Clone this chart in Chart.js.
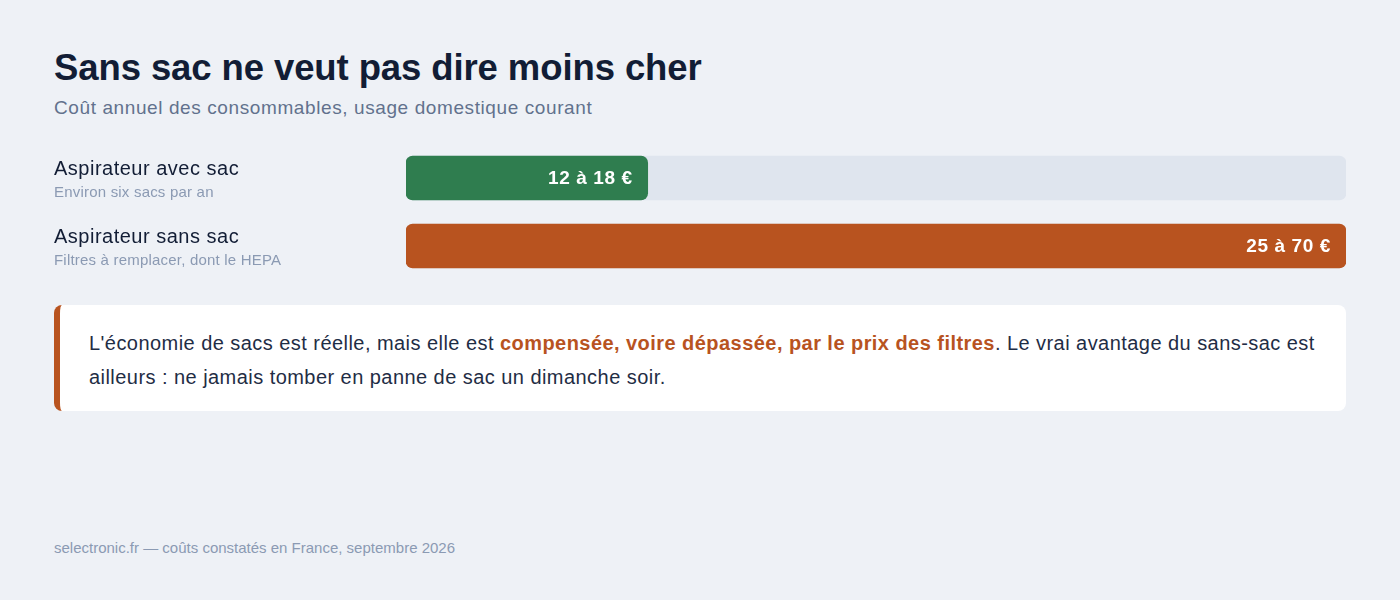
<!DOCTYPE html>
<html lang="fr">
<head>
<meta charset="utf-8">
<script src="https://cdn.jsdelivr.net/npm/chart.js@4.4.1/dist/chart.umd.min.js"></script>
<style>
  html, body { margin: 0; padding: 0; }
  body {
    width: 1400px; height: 600px; position: relative; overflow: hidden;
    background: #eef1f6; font-family: "Liberation Sans", Arial, Helvetica, sans-serif;
  }
  h1 {
    position: absolute; left: 54px; top: 48px; margin: 0;
    font-size: 36.5px; line-height: 40px; font-weight: 700; color: #121d35; letter-spacing: -0.1px;
  }
  .sous-titre {
    position: absolute; left: 54px; top: 97px; margin: 0;
    font-size: 19px; line-height: 22px; color: #62718d; letter-spacing: 0.6px;
  }
  #zoneBarres { position: absolute; left: 54px; top: 144px; }
  .encart {
    position: absolute; left: 54px; top: 305px; width: 1292px; height: 106px; box-sizing: border-box;
    background: #fff; border-left: 6px solid #b8531f; border-radius: 8px;
    padding: 21px 28px 0 29px; font-size: 20px; line-height: 34px; color: #1f2d45; letter-spacing: 0.45px;
  }
  .encart b { color: #b8531f; }
  .source {
    position: absolute; left: 54px; top: 539px; margin: 0;
    font-size: 15px; line-height: 18px; color: #8b9ab3;
  }
</style>
</head>
<body>
<h1>Sans sac ne veut pas dire moins cher</h1>
<p class="sous-titre">Coût annuel des consommables, usage domestique courant</p>
<canvas id="zoneBarres" width="1292" height="136"></canvas>
<div class="encart">L'économie de sacs est réelle, mais elle est <b>compensée, voire dépassée, par le prix des filtres</b>. Le vrai avantage du sans-sac est ailleurs : ne jamais tomber en panne de sac un dimanche soir.</div>
<p class="source">selectronic.fr — coûts constatés en France, septembre 2026</p>

<script>
// données
const categories = ["Aspirateur avec sac", "Aspirateur sans sac"];
const details = ["Environ six sacs par an", "Filtres à remplacer, dont le HEPA"];
const coutMin = [12, 25];
const coutMax = [18, 70];
const couleurs = ["#2f7d4f", "#b8531f"];
const echelleMax = 70;

// libellés à gauche + fourchette dans la barre
const etiquettes = {
  id: "etiquettes",
  afterDatasetsDraw(chart) {
    const ctx = chart.ctx;
    const y = chart.scales.y;
    const barres = chart.getDatasetMeta(0).data;
    ctx.save();
    categories.forEach(function (nom, i) {
      const yc = y.getPixelForValue(i);
      ctx.textBaseline = "middle";
      ctx.textAlign = "left";
      ctx.fillStyle = "#121d35";
      ctx.letterSpacing = "0.5px";
      ctx.font = "20px 'Liberation Sans', Arial, sans-serif";
      ctx.fillText(nom, 0, yc - 9);
      ctx.fillStyle = "#8b9ab3";
      ctx.letterSpacing = "0.2px";
      ctx.font = "15px 'Liberation Sans', Arial, sans-serif";
      ctx.fillText(details[i], 0, yc + 15);

      ctx.textAlign = "right";
      ctx.fillStyle = "#ffffff";
      ctx.letterSpacing = "0.6px";
      ctx.font = "bold 19px 'Liberation Sans', Arial, sans-serif";
      ctx.fillText(coutMin[i] + " à " + coutMax[i] + " €", barres[i].x - 15, yc + 1);
    });
    ctx.restore();
  }
};

new Chart(document.getElementById("zoneBarres").getContext("2d"), {
  type: "bar",
  data: {
    labels: categories,
    datasets: [
      {
        label: "Coût annuel",
        data: coutMax,
        backgroundColor: couleurs,
        borderRadius: 7,
        borderSkipped: false,
        barThickness: 44,
        grouped: false,
        order: 1
      },
      {
        label: "Fond",
        data: categories.map(function () { return echelleMax; }),
        backgroundColor: "#dfe5ee",
        borderRadius: 7,
        borderSkipped: false,
        barThickness: 44,
        grouped: false,
        order: 2
      }
    ]
  },
  options: {
    indexAxis: "y",
    responsive: false,
    animation: false,
    layout: { padding: { left: 352, right: 0, top: 0, bottom: 0 } },
    scales: {
      x: { display: false, min: 0, max: echelleMax },
      y: { display: false }
    },
    plugins: { legend: { display: false }, tooltip: { enabled: false } }
  },
  plugins: [etiquettes]
});
</script>
</body>
</html>
